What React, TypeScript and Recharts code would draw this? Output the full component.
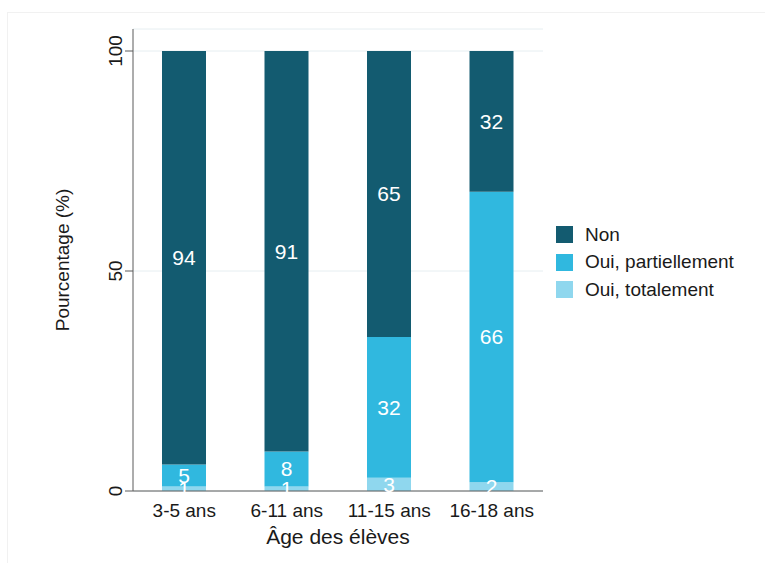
import React from 'react'
import { BarChart, Bar, XAxis, YAxis, CartesianGrid, Legend, LabelList } from 'recharts'

const categories = ['3-5 ans', '6-11 ans', '11-15 ans', '16-18 ans']
const totalement = [1, 1, 3, 2]
const partiellement = [5, 8, 32, 66]
const non = [94, 91, 65, 32]
const yTicks = [0, 50, 100]

const series = [
  { key: 'totalement', name: 'Oui, totalement', color: '#8fd7ee' },
  { key: 'partiellement', name: 'Oui, partiellement', color: '#30b8df' },
  { key: 'non', name: 'Non', color: '#135b70' },
]
const legendOrder = ['Non', 'Oui, partiellement', 'Oui, totalement']

const data = categories.map((c, i) => ({
  cat: c,
  totalement: totalement[i],
  partiellement: partiellement[i],
  non: non[i],
}))

const font = '"Liberation Sans", Arial, sans-serif'
const ink = '#1a1a1a'
const axisCol = '#5a5a5a'

function YTick(props: any) {
  const { x, y, payload } = props
  return (
    <text x={x - 1} y={y} transform={`rotate(-90 ${x - 1} ${y})`} textAnchor="middle"
      fontSize={19} fill={ink} fontFamily={font}>
      {payload.value}
    </text>
  )
}

function LegendBox(props: any) {
  const items = [...(props.payload || [])].sort(
    (a: any, b: any) => legendOrder.indexOf(a.value) - legendOrder.indexOf(b.value)
  )
  return (
    <div style={{ fontFamily: font }}>
      {items.map((it: any) => (
        <div key={it.value} style={{ display: 'flex', alignItems: 'center', height: 27.5 }}>
          <div style={{ width: 17, height: 17, background: it.color, marginRight: 12 }} />
          <span style={{ fontSize: 19, color: ink }}>{it.value}</span>
        </div>
      ))}
    </div>
  )
}

export default function App() {
  return (
    <div style={{ position: 'absolute', left: 0, top: 0, width: 765, height: 563, background: '#fff' }}>
      <div style={{ position: 'absolute', left: 7, top: 12, width: 770, height: 570,
        borderLeft: '1px solid #f1f1f1', borderTop: '1px solid #f1f1f1' }} />
      <BarChart width={765} height={563} data={data}
        margin={{ top: 29, right: 22, left: 50, bottom: 42 }}>
        <CartesianGrid horizontal vertical={false} stroke="#e6eef1" />
        <XAxis dataKey="cat" tickLine={false} tickSize={0} tickMargin={13} height={30} interval={0}
          stroke={axisCol} tick={{ fontSize: 19, fill: ink, fontFamily: font }}
          label={{ value: 'Âge des élèves', position: 'bottom', offset: 8,
            style: { fontSize: 21, fill: ink, fontFamily: font } }} />
        <YAxis domain={[0, 105]} ticks={yTicks} width={83} tickSize={8} tickMargin={2}
          stroke={axisCol} tick={<YTick />}
          label={{ value: 'Pourcentage (%)', angle: -90, position: 'insideLeft', offset: 12,
            style: { fontSize: 19, fill: ink, fontFamily: font, textAnchor: 'middle' } }} />
        <Legend layout="vertical" align="right" verticalAlign="top" content={<LegendBox />}
          wrapperStyle={{ left: 556, top: 221, width: 200 }} />
        {series.map((s) => (
          <Bar key={s.key} dataKey={s.key} name={s.name} stackId="a" fill={s.color}
            barSize={44} isAnimationActive={false}>
            <LabelList dataKey={s.key} position="center" fill="#ffffff" fontSize={21}
              fontFamily={font} />
          </Bar>
        ))}
      </BarChart>
    </div>
  )
}
